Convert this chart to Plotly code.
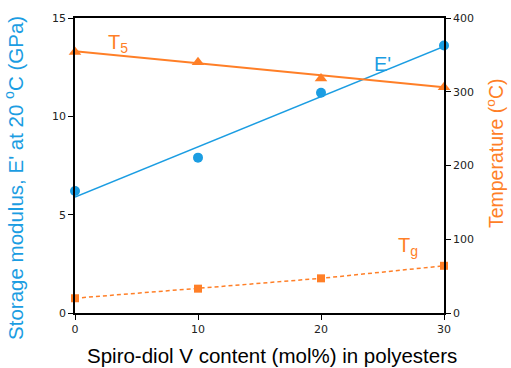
import plotly.graph_objects as go

content = [0, 10, 20, 30]
e_modulus = [6.2, 7.9, 11.2, 13.6]
e_trend_x = [0, 30]
e_trend = [5.9, 13.55]
t5 = [354, 340, 318, 306]
t5_trend_x = [0, 30]
t5_trend = [355, 306]
tg = [20, 33, 47, 64]
x_ticks = [0, 10, 20, 30]
y1_ticks = [0, 5, 10, 15]
y2_ticks = [0, 100, 200, 300, 400]

BLUE = "#1B9DE2"
ORANGE = "#FF7F27"

fig = go.Figure()
fig.add_trace(go.Scatter(x=e_trend_x, y=e_trend, mode="lines",
                         line=dict(color=BLUE, width=1.5), yaxis="y", cliponaxis=False))
fig.add_trace(go.Scatter(x=content, y=e_modulus, mode="markers",
                         marker=dict(color=BLUE, size=10, symbol="circle"), yaxis="y", cliponaxis=False))
fig.add_trace(go.Scatter(x=t5_trend_x, y=t5_trend, mode="lines",
                         line=dict(color=ORANGE, width=2), yaxis="y2", cliponaxis=False))
fig.add_trace(go.Scatter(x=content, y=t5, mode="markers",
                         marker=dict(color=ORANGE, size=11, symbol="triangle-up"), yaxis="y2", cliponaxis=False))
fig.add_trace(go.Scatter(x=content, y=tg, mode="lines+markers",
                         line=dict(color=ORANGE, width=1.5, dash="4px,3px"),
                         marker=dict(color=ORANGE, size=8, symbol="square"), yaxis="y2", cliponaxis=False))

tickfont = dict(family="DejaVu Sans", size=11, color="#222222")
fig.update_layout(
    width=511, height=368,
    margin=dict(l=75, r=67, t=16, b=55),
    paper_bgcolor="white", plot_bgcolor="white",
    showlegend=False,
    xaxis=dict(range=[0, 30], tickvals=x_ticks, showgrid=False, zeroline=False,
               showline=True, linecolor="black", linewidth=1.5, mirror=True,
               ticks="outside", ticklen=5, tickcolor="black", tickfont=tickfont),
    yaxis=dict(range=[0, 15], tickvals=y1_ticks, showgrid=False, zeroline=False,
               showline=True, linecolor="black", linewidth=1.5,
               ticks="outside", ticklen=5, tickcolor="black", tickfont=tickfont),
    yaxis2=dict(range=[0, 400], tickvals=y2_ticks, showgrid=False, zeroline=False,
                overlaying="y", side="right",
                showline=True, linecolor="black", linewidth=1.5,
                ticks="outside", ticklen=5, tickcolor="black", tickfont=tickfont),
    font=dict(family="Liberation Sans"),
)

pw, ph = 511 - 75 - 67, 368 - 16 - 55
annots = [
    dict(x=14, y=177, text="Storage modulus, E' at 20 <sup>o</sup>C (GPa)", textangle=-90,
         font=dict(family="Liberation Sans", size=20.5, color=BLUE)),
    dict(x=495, y=152, text="Temperature (<sup>o</sup>C)", textangle=-90,
         font=dict(family="Liberation Sans", size=19.5, color=ORANGE)),
    dict(x=272, y=356, text="Spiro-diol V content (mol%) in polyesters",
         font=dict(family="Liberation Sans", size=20.5, color="black")),
    dict(x=118, y=42, text="T<sub>5</sub>", font=dict(family="Liberation Sans", size=20, color=ORANGE)),
    dict(x=382, y=62, text="E'", font=dict(family="Liberation Sans", size=20, color=BLUE)),
    dict(x=408, y=246, text="T<sub>g</sub>", font=dict(family="Liberation Sans", size=20, color=ORANGE)),
]
for a in annots:
    fig.add_annotation(xref="paper", yref="paper",
                       x=(a["x"] - 75) / pw, y=(368 - 55 - a["y"]) / ph,
                       xanchor="center", yanchor="middle", showarrow=False,
                       text=a["text"], textangle=a.get("textangle", 0), font=a["font"])

fig.write_html("out.html")
